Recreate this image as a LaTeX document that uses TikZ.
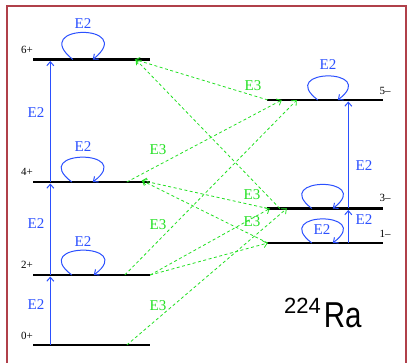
\documentclass[tikz,border=0pt]{standalone}
\usepackage{fontspec}
\setmainfont{Liberation Serif}
\newfontfamily\nucfont{Liberation Sans}
\newfontfamily\nucnarrow[FakeStretch=0.82]{Liberation Sans}
\usetikzlibrary{positioning,calc,arrows.meta}
\definecolor{ink}        {HTML}{000000}
\definecolor{etwoblue}   {HTML}{2B50FF}
\definecolor{ethreegreen}{HTML}{22E022}
\definecolor{boxred}     {HTML}{B0404A}
\tikzset{
  >={Straight Barb[length=4pt,width=7pt]},
  % --- nodes
  lvl/.style    = {fill=ink, inner sep=0pt, minimum height=2.6pt, minimum width=117pt},
  spin/.style   = {font=\fontsize{11}{11}\selectfont, text=ink, inner sep=0pt},
  ltwo/.style   = {font=\fontsize{15}{15}\selectfont, text=etwoblue, inner sep=0pt},
  lthree/.style = {font=\fontsize{15}{15}\selectfont, text=ethreegreen, inner sep=0pt},
  % --- edges
  etwo/.style   = {->, draw=etwoblue, line width=1pt},
  ethree/.style = {->, draw=ethreegreen, line width=0.8pt, dash pattern=on 3pt off 2.5pt},
}

\begin{document}
\begin{tikzpicture}[x=1pt,y=-1pt]
  \useasboundingbox (0,0) rectangle (410,363);
  \draw[boxred, line width=2pt] (7,363) -- (7,6) -- (406,6) -- (406,363);

  % levels, positive parity
  \node[lvl] (l6) at (91.5,59.5) {};
  \node[lvl] (l4) at (91.5,182) {};
  \node[lvl] (l2) at (91.5,275) {};
  \node[lvl] (l0) at (91.5,345) {};
  % levels, negative parity
  \node[lvl, minimum width=116pt] (l5) at (325,100) {};
  \node[lvl, minimum width=116pt] (l3) at (325,208.5) {};
  \node[lvl, minimum width=116pt] (l1) at (325,243) {};

  \node[spin] (s6) at (27,50) {6+};
  \node[spin] (s4) at (27,172) {4+};
  \node[spin] (s2) at (27,265) {2+};
  \node[spin] (s0) at (27,336) {0+};
  \node[spin] (s5) at (385,91) {5--};
  \node[spin] (s3) at (385,198) {3--};
  \node[spin] (s1) at (385,234) {1--};

  \node[inner sep=0pt, anchor=base west] (nuc) at (284,328)
    {\nucfont\fontsize{22}{22}\selectfont\raisebox{14pt}{224}\kern3pt\nucnarrow\fontsize{36}{36}\selectfont Ra};

  % E2 ladders
  \draw[etwo] ([xshift=17.5pt]l0.west) -- ([xshift=17.5pt]l2.south west);
  \draw[etwo] ([xshift=17.5pt]l2.west) -- ([xshift=17.5pt]l4.south west);
  \draw[etwo] ([xshift=17.5pt]l4.west) -- ([xshift=17.5pt]l6.south west);
  \draw[etwo] ([xshift=81.5pt]l1.west) -- ([xshift=81.5pt]l3.south west);
  \draw[etwo] ([xshift=81.5pt]l3.west) -- ([xshift=81.5pt]l5.south west);

  % E2 loops
  \draw[etwo] ([xshift=40pt]l6.west) .. controls +(-45,-36) and +(45,-36) .. ([xshift=60pt]l6.west);
  \draw[etwo] ([xshift=39pt]l4.west) .. controls +(-44,-33) and +(44,-33) .. ([xshift=60pt]l4.west);
  \draw[etwo] ([xshift=39pt]l2.west) .. controls +(-44,-33) and +(44,-33) .. ([xshift=61pt]l2.west);
  \draw[etwo] ([xshift=51pt]l5.west) .. controls +(-42,-32) and +(42,-32) .. ([xshift=71pt]l5.west);
  \draw[etwo] ([xshift=45pt]l3.west) .. controls +(-42,-32) and +(42,-32) .. ([xshift=66pt]l3.west);
  \draw[etwo] ([xshift=45pt]l1.west) .. controls +(-42,-32) and +(42,-32) .. ([xshift=66pt]l1.west);

  \node[ltwo] (a64) at (36,113) {E2};
  \node[ltwo] (a42) at (36,224) {E2};
  \node[ltwo] (a20) at (36,305) {E2};
  \node[ltwo] (a66) at (83,24) {E2};
  \node[ltwo] (a44) at (83,147) {E2};
  \node[ltwo] (a22) at (83,242) {E2};
  \node[ltwo] (a55) at (328,65) {E2};
  \node[ltwo] (a11) at (322,230) {E2};
  \node[ltwo] (a53) at (364,166) {E2};
  \node[ltwo] (a31) at (364,220) {E2};

  % E3 couplings
  \draw[ethree] ([xshift=1pt]l5.west) -- ([xshift=102pt]l6.west);
  \draw[ethree] ([xshift=13pt]l3.west) -- ([xshift=103pt]l6.west);
  \draw[ethree] ([xshift=1pt]l3.west) -- ([xshift=109pt]l4.north west);
  \draw[ethree] ([xshift=1pt]l1.west) -- ([xshift=109pt]l4.north west);
  \draw[ethree] ([xshift=94pt]l4.west) -- ([xshift=15pt]l5.west);
  \draw[ethree] ([xshift=92pt]l2.west) -- ([xshift=30pt]l5.west);
  \draw[ethree] (l2.east) -- ([xshift=3pt]l3.west);
  \draw[ethree] (l2.east) -- ([xshift=1pt]l1.west);
  \draw[ethree] ([xshift=94pt]l0.west) -- ([xshift=20pt]l3.west);

  \node[lthree] (b65) at (253,86) {E3};
  \node[lthree] (b45) at (158,150) {E3};
  \node[lthree] (b43) at (252,195) {E3};
  \node[lthree] (b41) at (252,222) {E3};
  \node[lthree] (b25) at (158,225) {E3};
  \node[lthree] (b03) at (158,306) {E3};
\end{tikzpicture}
\end{document}
